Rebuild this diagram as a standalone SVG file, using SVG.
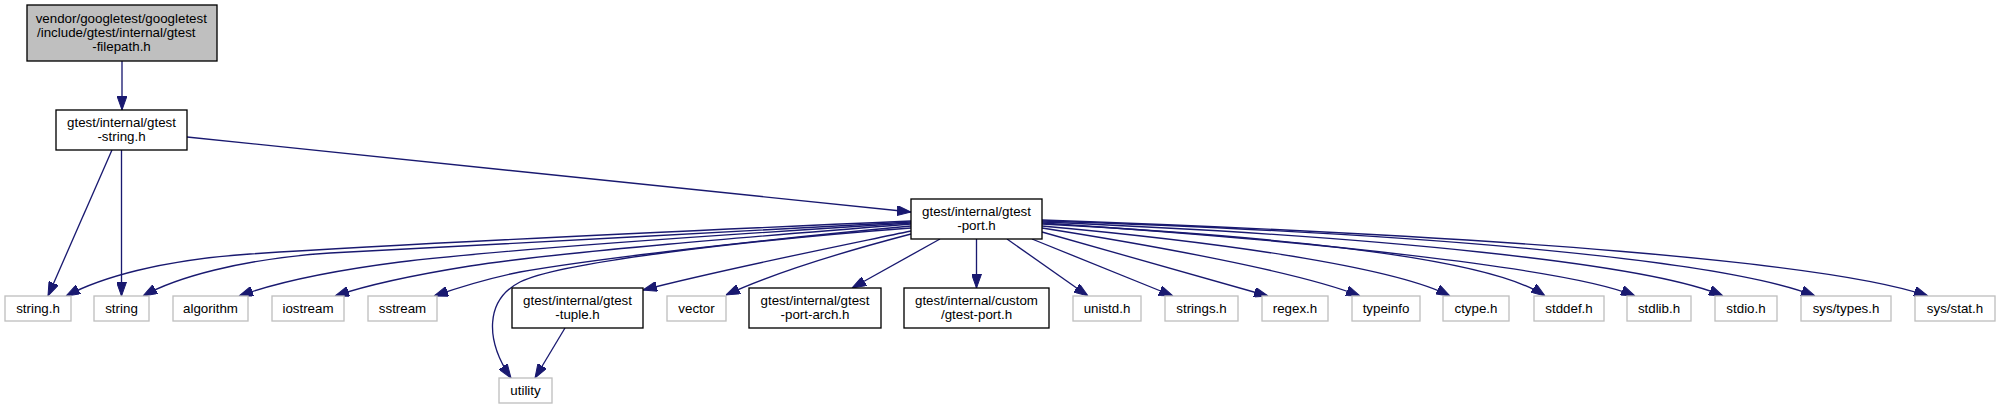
<svg xmlns="http://www.w3.org/2000/svg" width="2001" height="409" viewBox="0 0 2001 409">
<style>
  .bg { fill: #ffffff; }
  .int rect { fill: #ffffff; stroke: #000000; stroke-width: 1.33; }
  .ext rect { fill: #ffffff; stroke: #bfbfbf; stroke-width: 1.33; }
  .cur rect { fill: #bfbfbf; stroke: #000000; stroke-width: 1.33; }
  text { font-family: "Liberation Sans", Arial, Helvetica, sans-serif; font-size: 13.33px; fill: #000000; text-anchor: middle; }
  .edges path { fill: none; stroke: #191970; stroke-width: 1.33; marker-end: url(#ah); }
</style>
<defs>
  <marker id="ah" markerUnits="userSpaceOnUse" viewBox="0 0 14 10" markerWidth="14" markerHeight="10" refX="14" refY="5" orient="auto">
    <path d="M0,0 L14,5 L0,10 z" fill="#191970" stroke="#191970" stroke-width="1"/>
  </marker>
</defs>
<rect class="bg" x="0" y="0" width="2001" height="409"/>

<g id="edges" class="edges">
  <path id="e_top_gstring" d="M122,61 L122,110"/>
  <path id="e_gstring_stringh" d="M112,150 L48,296"/>
  <path id="e_gstring_string" d="M121.5,150 L121.5,296"/>
  <path id="e_gstring_port" d="M187,137 L911,212"/>
  <path id="e_port_stringh" d="M911,221 C750,228 420,243 250,254 C160,260 100,278 66,296"/>
  <path id="e_port_string" d="M911,222 C750,230 480,246 330,253 C240,259 175,278 143,296"/>
  <path id="e_port_algorithm" d="M911,223 C750,233 500,250 400,262 C330,271 275,283 239,296"/>
  <path id="e_port_iostream" d="M911,224 C760,236 560,252 470,266 C420,274 370,284 335,296"/>
  <path id="e_port_sstream" d="M911,226 C760,240 600,258 520,272 C490,278 460,287 434,296"/>
  <path id="e_port_utility" d="M911,228 C750,240 560,262 520,282 C485,300 485,340 511,378"/>
  <path id="e_port_tuple" d="M911,231 C820,250 720,270 643,290"/>
  <path id="e_port_vector" d="M911,234 C850,250 780,270 726,295"/>
  <path id="e_port_portarch" d="M940,239 L852,288"/>
  <path id="e_port_custom" d="M976.5,239 L976.5,288"/>
  <path id="e_port_unistd" d="M1007,239 L1088,296"/>
  <path id="e_port_strings" d="M1032,239 L1173,296"/>
  <path id="e_port_regex" d="M1042,232 L1268,296"/>
  <path id="e_port_typeinfo" d="M1042,228 C1150,245 1300,272 1360,296"/>
  <path id="e_port_ctype" d="M1042,226 C1250,245 1400,270 1450,296"/>
  <path id="e_port_stddef" d="M1042,224 C1350,240 1500,265 1545,296"/>
  <path id="e_port_stdlib" d="M1042,223 C1300,240 1570,268 1635,296"/>
  <path id="e_port_stdio" d="M1042,222 C1380,236 1650,264 1723,296"/>
  <path id="e_port_systypes" d="M1042,221 C1450,234 1730,262 1815,296"/>
  <path id="e_port_sysstat" d="M1042,220 C1500,236 1830,262 1928,296"/>
  <path id="e_tuple_utility" d="M565,328 L535,378"/>
</g>

<g id="n_filepath" class="cur">
  <rect x="27" y="5" width="190" height="56"/>
  <text x="121.3" y="22.5">vendor/googletest/googletest</text>
  <text x="116.3" y="36.5">/include/gtest/internal/gtest</text>
  <text x="121.5" y="50.5">-filepath.h</text>
</g>
<g id="n_gtest_string" class="int">
  <rect x="56" y="110" width="131" height="40"/>
  <text x="121.5" y="126.5">gtest/internal/gtest</text>
  <text x="121.5" y="140.5">-string.h</text>
</g>
<g id="n_gtest_port" class="int">
  <rect x="911" y="199" width="131" height="40"/>
  <text x="976.5" y="215.5">gtest/internal/gtest</text>
  <text x="976.5" y="229.5">-port.h</text>
</g>
<g id="n_string_h" class="ext">
  <rect x="5" y="296" width="66" height="25"/>
  <text x="38" y="312.5">string.h</text>
</g>
<g id="n_string" class="ext">
  <rect x="94" y="296" width="55" height="25"/>
  <text x="121.5" y="312.5">string</text>
</g>
<g id="n_algorithm" class="ext">
  <rect x="173" y="296" width="75" height="25"/>
  <text x="210.5" y="312.5">algorithm</text>
</g>
<g id="n_iostream" class="ext">
  <rect x="272" y="296" width="72" height="25"/>
  <text x="308" y="312.5">iostream</text>
</g>
<g id="n_sstream" class="ext">
  <rect x="368" y="296" width="69" height="25"/>
  <text x="402.5" y="312.5">sstream</text>
</g>
<g id="n_utility" class="ext">
  <rect x="499" y="378" width="53" height="25"/>
  <text x="525.5" y="394.5">utility</text>
</g>
<g id="n_gtest_tuple" class="int">
  <rect x="512" y="288" width="131" height="40"/>
  <text x="577.5" y="304.5">gtest/internal/gtest</text>
  <text x="577.5" y="318.5">-tuple.h</text>
</g>
<g id="n_vector" class="ext">
  <rect x="667" y="296" width="59" height="25"/>
  <text x="696.5" y="312.5">vector</text>
</g>
<g id="n_gtest_port_arch" class="int">
  <rect x="749" y="288" width="132" height="40"/>
  <text x="815" y="304.5">gtest/internal/gtest</text>
  <text x="815" y="318.5">-port-arch.h</text>
</g>
<g id="n_custom_gtest_port" class="int">
  <rect x="904" y="288" width="145" height="40"/>
  <text x="976.5" y="304.5">gtest/internal/custom</text>
  <text x="976.5" y="318.5">/gtest-port.h</text>
</g>
<g id="n_unistd" class="ext">
  <rect x="1073" y="296" width="68" height="25"/>
  <text x="1107" y="312.5">unistd.h</text>
</g>
<g id="n_strings" class="ext">
  <rect x="1165" y="296" width="73" height="25"/>
  <text x="1201.5" y="312.5">strings.h</text>
</g>
<g id="n_regex" class="ext">
  <rect x="1262" y="296" width="66" height="25"/>
  <text x="1295" y="312.5">regex.h</text>
</g>
<g id="n_typeinfo" class="ext">
  <rect x="1352" y="296" width="68" height="25"/>
  <text x="1386" y="312.5">typeinfo</text>
</g>
<g id="n_ctype" class="ext">
  <rect x="1443" y="296" width="66" height="25"/>
  <text x="1476" y="312.5">ctype.h</text>
</g>
<g id="n_stddef" class="ext">
  <rect x="1534" y="296" width="70" height="25"/>
  <text x="1569" y="312.5">stddef.h</text>
</g>
<g id="n_stdlib" class="ext">
  <rect x="1627" y="296" width="64" height="25"/>
  <text x="1659" y="312.5">stdlib.h</text>
</g>
<g id="n_stdio" class="ext">
  <rect x="1715" y="296" width="62" height="25"/>
  <text x="1746" y="312.5">stdio.h</text>
</g>
<g id="n_sys_types" class="ext">
  <rect x="1801" y="296" width="90" height="25"/>
  <text x="1846" y="312.5">sys/types.h</text>
</g>
<g id="n_sys_stat" class="ext">
  <rect x="1915" y="296" width="80" height="25"/>
  <text x="1955" y="312.5">sys/stat.h</text>
</g>
</svg>
